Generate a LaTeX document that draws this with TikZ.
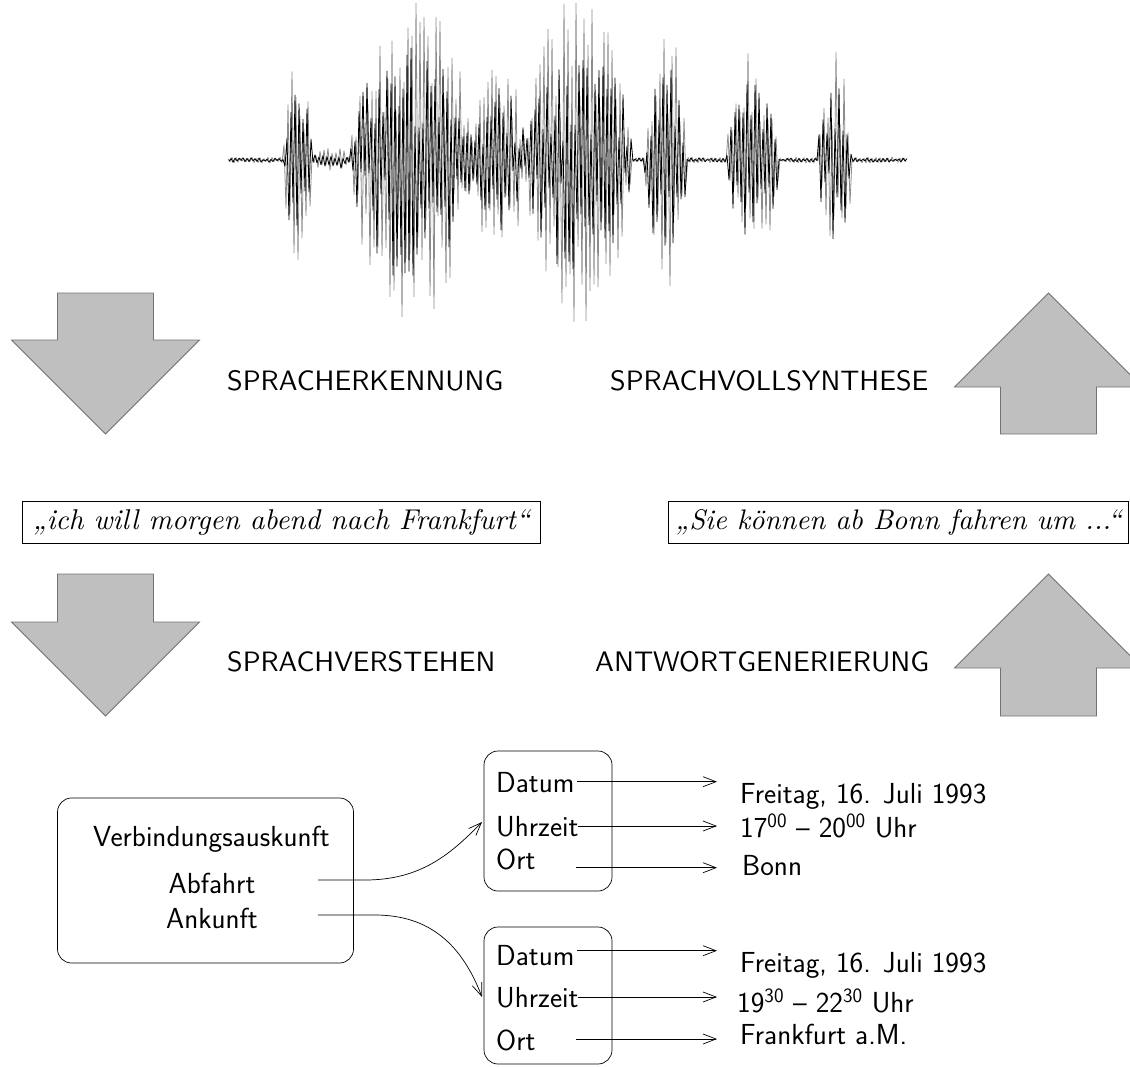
\documentclass[tikz,border=0pt]{standalone}
\usepackage{fontspec}
\usepackage{graphicx}
\usetikzlibrary{arrows.meta}
\begin{document}
\begin{tikzpicture}[x=1pt,y=-1pt,
  bigarrow/.style={fill=black!25, draw=black!55, line width=0.9pt, line join=miter},
  caplabel/.style={inner sep=0pt, anchor=west, font=\sffamily},
  quotebox/.style={draw, line width=0.8pt, inner sep=0pt, minimum height=42pt},
  rbox/.style={draw, line width=0.7pt, rounded corners=14pt, inner sep=0pt},
  btext/.style={inner sep=0pt, font=\fontsize{29}{34}\selectfont\sffamily},
  conn/.style={line width=0.7pt, -{Straight Barb[length=13pt,width=10pt,line width=0.7pt]}},
  wave/.style={line width=0.8pt, line join=round},
  declare function={
    bump(\t,\a,\b,\m)=(\t>\a)*(\t<\b)*\m*sqrt(abs(sin(max(0,min(1,(\t-\a)/(\b-\a)))*180)));
    env(\t)=3+bump(\t,283,312,100)+bump(\t,312,350,10)+bump(\t,350,472,160)
      +bump(\t,470,527,95)+bump(\t,525,632,165)+bump(\t,644,687,130)
      +bump(\t,726,779,115)+bump(\t,818,852,105);
  }
]
\useasboundingbox (0,0) rectangle (1130,1066);
\clip (0,0) rectangle (1130,1066);

% waveform
\pgfmathsetseed{7}
\draw[wave, black!45] plot[samples=340, domain=0:339, variable=\i]
  ({228+2*\i}, {160+env(228+2*\i)*(0.3+0.7*rnd)*(2*mod(\i,2)-1)});
\pgfmathsetseed{23}
\draw[wave, black] plot[samples=340, domain=0:339, variable=\i]
  ({229+2*\i}, {160+0.75*env(229+2*\i)*(0.15+0.85*rnd)*(1-2*mod(\i,2))});

% big arrows
\draw[bigarrow] (57.5,293) -- (153.5,293) -- (153.5,340) -- (199.5,340) -- (105.5,434) -- (11.5,340) -- (57.5,340) -- cycle;
\draw[bigarrow] (57.5,574) -- (153.5,574) -- (153.5,622) -- (199.5,622) -- (105.5,716) -- (11.5,622) -- (57.5,622) -- cycle;
\draw[bigarrow] (1048.5,293) -- (1142.5,387) -- (1096.5,387) -- (1096.5,434) -- (1000.5,434) -- (1000.5,387) -- (954.5,387) -- cycle;
\draw[bigarrow] (1048.5,574) -- (1142.5,668) -- (1096.5,668) -- (1096.5,716) -- (1000.5,716) -- (1000.5,668) -- (954.5,668) -- cycle;

% labels
\node[caplabel] (l1) at (227,380.5) {\resizebox{276pt}{!}{SPRACHERKENNUNG}};
\node[caplabel] (l2) at (610,380.5) {\resizebox{318pt}{!}{SPRACHVOLLSYNTHESE}};
\node[caplabel] (l3) at (227,662) {\resizebox{268pt}{!}{SPRACHVERSTEHEN}};
\node[caplabel] (l4) at (595,662) {\resizebox{334pt}{!}{ANTWORTGENERIERUNG}};

% quote boxes
\node[quotebox, minimum width=518pt, anchor=south west] (q1) at (22,544) {\resizebox{497pt}{!}{\itshape „ich will morgen abend nach Frankfurt“}};
\node[quotebox, minimum width=460pt, anchor=south west] (q2) at (668,544) {\resizebox{446pt}{!}{\itshape „Sie können ab Bonn fahren um ...“}};

% bottom structure
\node[rbox, minimum width=296pt, minimum height=165pt] (va) at (205.5,880.5) {};
\node[btext, anchor=base] (vt) at (211.5,846) {Verbindungsauskunft};
\node[btext, anchor=base] (ab) at (212,893) {Abfahrt};
\node[btext, anchor=base] (an) at (212,928) {Ankunft};

\node[rbox, minimum width=128pt, minimum height=140pt] (b1) at (548,821) {};
\node[rbox, minimum width=128pt, minimum height=137pt] (b2) at (548,995.5) {};

\node[btext, anchor=base west] (d1) at (496,792.7) {Datum};
\node[btext, anchor=base west] (u1) at (496,836.7) {Uhrzeit};
\node[btext, anchor=base west] (o1) at (496,869) {Ort};
\node[btext, anchor=base west] (d2) at (496,965) {Datum};
\node[btext, anchor=base west] (u2) at (496,1007) {Uhrzeit};
\node[btext, anchor=base west] (o2) at (496,1050) {Ort};

\node[btext, anchor=base west] (v1) at (740,803) {Freitag, 16. Juli 1993};
\node[btext, anchor=base west] (v2) at (740,837) {17\textsuperscript{00} – 20\textsuperscript{00} Uhr};
\node[btext, anchor=base west] (v3) at (742,875) {Bonn};
\node[btext, anchor=base west] (v4) at (740,972) {Freitag, 16. Juli 1993};
\node[btext, anchor=base west] (v5) at (737,1012) {19\textsuperscript{30} – 22\textsuperscript{30} Uhr};
\node[btext, anchor=base west] (v6) at (740,1044) {Frankfurt a.M.};

% connector end points
\coordinate (ab0) at (318,880);
\coordinate (an0) at (318,915);
\coordinate (b1in) at (482,822);
\coordinate (b2in) at (482,997);
\coordinate (d1s) at (577,781.7);  \coordinate (d1e) at (717,781.7);
\coordinate (u1s) at (578,826);    \coordinate (u1e) at (717,826);
\coordinate (o1s) at (576,867.7);  \coordinate (o1e) at (717,867.7);
\coordinate (d2s) at (577,950.7);  \coordinate (d2e) at (717,950.7);
\coordinate (u2s) at (578,997);    \coordinate (u2e) at (717,997);
\coordinate (o2s) at (576,1039);   \coordinate (o2e) at (717,1039);

\draw[conn] (ab0) -- (365,880) .. controls (420,880) and (450,855) .. (b1in);
\draw[conn] (an0) -- (375,915) .. controls (430,915) and (462,945) .. (b2in);
\draw[conn] (d1s) -- (d1e);
\draw[conn] (u1s) -- (u1e);
\draw[conn] (o1s) -- (o1e);
\draw[conn] (d2s) -- (d2e);
\draw[conn] (u2s) -- (u2e);
\draw[conn] (o2s) -- (o2e);
\end{tikzpicture}
\end{document}
